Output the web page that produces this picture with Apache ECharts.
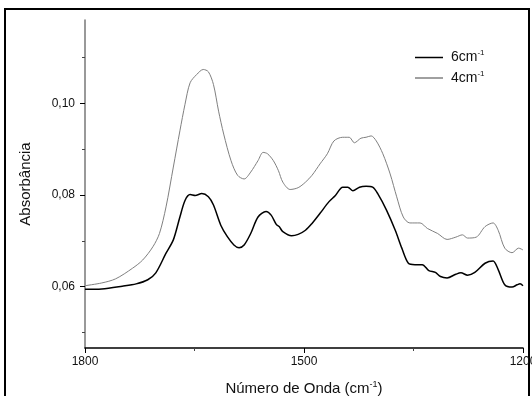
<!DOCTYPE html>
<html>
<head>
<meta charset="utf-8">
<script src="https://cdn.jsdelivr.net/npm/echarts@6/dist/echarts.min.js"></script>
<style>
  html, body {margin: 0; padding: 0; background: #fff;}
  #chart {width: 532px; height: 396px;}
</style>
</head>
<body>
<div id="chart"></div>
<script>
// 6 cm-1 resolution spectrum
const wn6 = [1800,1777,1749,1730,1714,1703,1689,1679,1670,1663,1656,1649,1640,1631,1624,1614,1605,1596,1589,1582,1573,1563,1552,1545,1538,1534,1529,1517,1508,1498,1489,1478,1466,1457,1447,1440,1433,1424,1415,1406,1399,1387,1375,1366,1357,1348,1338,1329,1320,1313,1304,1292,1285,1276,1266,1252,1241,1234,1225,1215,1208,1204,1200];
const abs6 = [0.0594,0.0595,0.0601,0.0606,0.0615,0.0630,0.0673,0.0702,0.0752,0.0788,0.0801,0.0799,0.0803,0.0796,0.0778,0.0734,0.0709,0.0691,0.0685,0.0691,0.0716,0.0752,0.0764,0.0756,0.0736,0.0731,0.0720,0.0711,0.0714,0.0723,0.0738,0.0760,0.0785,0.0799,0.0817,0.0817,0.0809,0.0817,0.0819,0.0817,0.0803,0.0767,0.0723,0.0684,0.0651,0.0648,0.0648,0.0635,0.0631,0.0622,0.0619,0.0627,0.0630,0.0625,0.0631,0.0651,0.0656,0.0637,0.0604,0.0599,0.0604,0.0606,0.0602];

// 4 cm-1 resolution spectrum
const wn4 = [1800,1777,1758,1735,1721,1707,1698,1689,1679,1670,1663,1656,1647,1638,1631,1624,1617,1610,1600,1591,1582,1573,1563,1556,1550,1542,1535,1529,1519,1508,1498,1489,1478,1468,1459,1447,1438,1431,1422,1415,1408,1401,1392,1382,1373,1364,1355,1341,1331,1317,1304,1292,1283,1276,1264,1252,1241,1234,1225,1215,1206,1200];
const abs4 = [0.0602,0.0608,0.0617,0.0640,0.0658,0.0687,0.0716,0.0774,0.0861,0.0940,0.0998,0.1045,0.1063,0.1074,0.1069,0.1041,0.0983,0.0933,0.0875,0.0843,0.0835,0.0850,0.0875,0.0893,0.0890,0.0875,0.0853,0.0828,0.0812,0.0816,0.0828,0.0843,0.0868,0.0890,0.0918,0.0926,0.0926,0.0914,0.0924,0.0926,0.0929,0.0918,0.0890,0.0846,0.0796,0.0752,0.0739,0.0739,0.0727,0.0716,0.0703,0.0708,0.0713,0.0706,0.0708,0.0731,0.0739,0.0723,0.0684,0.0674,0.0684,0.0680];

const xMajor = [1800, 1500, 1200];
const xMinor = [1650, 1350];
const yMajor = [0.06, 0.08, 0.10];
const yMinor = [0.05, 0.07, 0.09, 0.11];

const zip = (xs, ys) => xs.map((x, i) => [x, ys[i]]);
const font = 'Liberation Sans, Arial, sans-serif';
const supRich = {
  n: {fontFamily: font, fontSize: 15, color: '#111'},
  s: {fontFamily: font, fontSize: 9, color: '#111', padding: [0, 0, 9, 0]}
};

const chart = echarts.init(document.getElementById('chart'));

const xBase = {
  type: 'value', min: 1200, max: 1800, inverse: true,
  splitLine: {show: false}
};
const yBase = {
  type: 'value', min: 0.0466, max: 0.1182,
  splitLine: {show: false}
};

chart.setOption({
  animation: false,
  backgroundColor: '#fff',
  grid: {left: 85, right: 9, top: 20, bottom: 48, outerBoundsMode: 'none'},
  graphic: [{
    type: 'rect', silent: true,
    shape: {x: 5, y: 9, width: 524, height: 420},
    style: {fill: 'none', stroke: '#000', lineWidth: 2}
  }],
  legend: {
    orient: 'vertical', left: 415, top: 49, padding: 0,
    itemWidth: 28, itemHeight: 1.5, itemGap: 5,
    textStyle: {fontFamily: font, fontSize: 14, color: '#111', padding: [0, 0, 0, 3], rich: {
      n: {fontFamily: font, fontSize: 14, color: '#111'},
      s: {fontFamily: font, fontSize: 8, color: '#111', padding: [0, 0, 9, 0]}
    }},
    formatter: name => '{n|' + name.replace('-1', '') + '}{s|-1}',
    data: [{name: '6cm-1', icon: 'rect'}, {name: '4cm-1', icon: 'rect'}]
  },
  xAxis: [Object.assign({}, xBase, {
    position: 'bottom',
    name: '{n|Número de Onda (cm}{s|-1}{n|)}',
    nameLocation: 'middle', nameGap: 32,
    nameTextStyle: {rich: supRich},
    axisLine: {lineStyle: {color: '#000', width: 1.5}},
    axisTick: {customValues: xMajor, length: 5, lineStyle: {color: '#000'}},
    axisLabel: {customValues: xMajor, fontFamily: font, fontSize: 12, color: '#111', margin: 8,
      formatter: v => String(v)}
  }), Object.assign({}, xBase, {
    position: 'bottom',
    axisLine: {show: false},
    axisTick: {customValues: xMinor, length: 3, lineStyle: {color: '#444'}},
    axisLabel: {show: false}
  })],
  yAxis: [Object.assign({}, yBase, {
    position: 'left',
    name: 'Absorbância',
    nameLocation: 'middle', nameGap: 52, nameRotate: 90,
    nameTextStyle: {fontFamily: font, fontSize: 15, color: '#111'},
    axisLine: {show: true, lineStyle: {color: '#777', width: 1.5}},
    axisTick: {show: true, customValues: yMajor, length: 5, lineStyle: {color: '#000'}},
    axisLabel: {customValues: yMajor, fontFamily: font, fontSize: 12, color: '#111', margin: 10,
      formatter: v => v.toFixed(2).replace('.', ',')}
  }), Object.assign({}, yBase, {
    position: 'left',
    axisLine: {show: false},
    axisTick: {show: true, customValues: yMinor, length: 3, lineStyle: {color: '#444'}},
    axisLabel: {show: false}
  })],
  series: [{
    name: '6cm-1', type: 'line', symbol: 'none', smooth: 0.3,
    lineStyle: {color: '#000', width: 1.5},
    itemStyle: {color: '#000'},
    data: zip(wn6, abs6)
  }, {
    name: '4cm-1', type: 'line', symbol: 'none', smooth: 0.3,
    lineStyle: {color: '#808080', width: 1},
    itemStyle: {color: '#808080'},
    data: zip(wn4, abs4)
  }]
});
</script>
</body>
</html>
